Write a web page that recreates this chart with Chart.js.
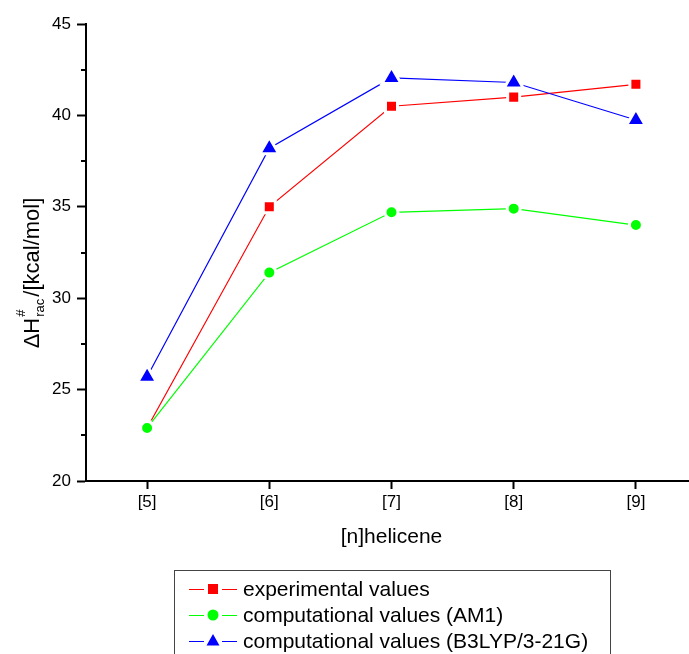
<!DOCTYPE html>
<html lang="en">
<head>
    <meta charset="UTF-8">
    <title>Helicene racemization barriers</title>
    <script src="https://cdn.jsdelivr.net/npm/chart.js"></script>
    <style>
        html, body { margin: 0; padding: 0; background: #fff; overflow: hidden; }
        #chart { display: block; }
    </style>
</head>
<body>
    <canvas id="chart" width="711" height="654"></canvas>

    <script>
        // data
        const categories = ['[5]', '[6]', '[7]', '[8]', '[9]'];
        const experimental = [22.9, 35.0, 40.5, 41.0, 41.7];
        const am1 = [22.9, 31.4, 34.7, 34.9, 34.0];
        const b3lyp = [25.7, 38.2, 42.05, 41.8, 39.75];
        const seriesNames = ['experimental values', 'computational values (AM1)', 'computational values (B3LYP/3-21G)'];
        const yMin = 20, yMax = 45, yStep = 5;

        const FONT = "'Liberation Sans', Arial, sans-serif";

        // axis titles (with sub/superscript), minor ticks, legend box
        const extras = {
            id: 'extras',
            afterDraw(chart) {
                const ctx = chart.ctx;
                const area = chart.chartArea;
                const y = chart.scales.y;

                // minor y ticks
                ctx.save();
                ctx.strokeStyle = '#000';
                ctx.lineWidth = 2;
                for (let v = yMin + yStep / 2; v < yMax; v += yStep) {
                    const py = Math.round(y.getPixelForValue(v));
                    ctx.beginPath();
                    ctx.moveTo(area.left - 5, py);
                    ctx.lineTo(area.left, py);
                    ctx.stroke();
                }
                ctx.restore();

                // x title
                ctx.save();
                ctx.fillStyle = '#000';
                ctx.font = '21px ' + FONT;
                ctx.textAlign = 'center';
                ctx.textBaseline = 'middle';
                ctx.fillText('[n]helicene', (area.left + area.right) / 2, 537);
                ctx.restore();

                // y title: ΔH#rac/[kcal/mol]
                ctx.save();
                ctx.fillStyle = '#000';
                ctx.translate(39, 273);
                ctx.rotate(-Math.PI / 2);
                ctx.textBaseline = 'alphabetic';
                ctx.textAlign = 'left';
                const big = '22px ' + FONT, small = '13px ' + FONT;
                ctx.font = big;
                const w1 = ctx.measureText('\u0394H').width;
                const w3 = ctx.measureText('/[kcal/mol]').width;
                ctx.font = small;
                const w2 = Math.max(ctx.measureText('#').width, ctx.measureText('rac').width) + 3;
                let x0 = -(w1 + w2 + w3) / 2;
                ctx.font = big;
                ctx.fillText('\u0394H', x0, 0);
                ctx.font = small;
                ctx.fillText('#', x0 + w1 + 1, -14);
                ctx.fillText('rac', x0 + w1 + 1, 5);
                ctx.font = big;
                ctx.fillText('/[kcal/mol]', x0 + w1 + w2, 0);
                ctx.restore();

                // legend box
                ctx.save();
                ctx.strokeStyle = '#444';
                ctx.lineWidth = 1;
                ctx.strokeRect(174.5, 570.5, 436, 120);
                chart.data.datasets.forEach((ds, i) => {
                    const ly = 589 + i * 26;
                    ctx.strokeStyle = ds.borderColor;
                    ctx.lineWidth = 1;
                    ctx.beginPath();
                    ctx.moveTo(189, ly + 0.5);
                    ctx.lineTo(204, ly + 0.5);
                    ctx.moveTo(222, ly + 0.5);
                    ctx.lineTo(237, ly + 0.5);
                    ctx.stroke();
                    ctx.fillStyle = ds.backgroundColor;
                    ctx.beginPath();
                    if (ds.pointStyle === 'rect') {
                        ctx.rect(213 - 5, ly - 5, 10, 10);
                    } else if (ds.pointStyle === 'circle') {
                        ctx.arc(213, ly, 5.5, 0, Math.PI * 2);
                    } else {
                        ctx.moveTo(213, ly - 7);
                        ctx.lineTo(219.5, ly + 4.5);
                        ctx.lineTo(206.5, ly + 4.5);
                        ctx.closePath();
                    }
                    ctx.fill();
                    ctx.fillStyle = '#000';
                    ctx.font = '21px ' + FONT;
                    ctx.textAlign = 'left';
                    ctx.textBaseline = 'middle';
                    ctx.fillText(ds.label, 243, ly + 1);
                });
                ctx.restore();
            }
        };

        const ctx = document.getElementById('chart').getContext('2d');
        new Chart(ctx, {
            type: 'line',
            data: {
                labels: categories,
                datasets: [{
                    label: seriesNames[0],
                    data: experimental,
                    borderColor: '#ff0000',
                    backgroundColor: '#ff0000',
                    pointStyle: 'rect',
                    pointRadius: 8.5,
                    pointBorderColor: '#ffffff',
                    pointBorderWidth: 3,
                    borderWidth: 1.2,
                    order: 2
                }, {
                    label: seriesNames[1],
                    data: am1,
                    borderColor: '#00ff00',
                    backgroundColor: '#00ff00',
                    pointStyle: 'circle',
                    pointRadius: 6.5,
                    pointBorderColor: '#ffffff',
                    pointBorderWidth: 3,
                    borderWidth: 1.2,
                    order: 0
                }, {
                    label: seriesNames[2],
                    data: b3lyp,
                    borderColor: '#0000ff',
                    backgroundColor: '#0000ff',
                    pointStyle: 'triangle',
                    pointRadius: 11,
                    pointBorderColor: '#ffffff',
                    pointBorderWidth: 3,
                    borderWidth: 1.2,
                    order: 1
                }]
            },
            options: {
                responsive: false,
                animation: false,
                layout: { padding: { left: 0, top: 24, right: 2.5, bottom: 0 } },
                plugins: {
                    legend: { display: false },
                    tooltip: { enabled: false }
                },
                scales: {
                    x: {
                        type: 'category',
                        offset: true,
                        grid: {
                            drawOnChartArea: false,
                            drawTicks: true,
                            tickLength: 8,
                            tickWidth: 2,
                            tickColor: '#000',
                            offset: false
                        },
                        border: { display: true, color: '#000', width: 2 },
                        ticks: {
                            color: '#000',
                            font: { family: FONT, size: 17 },
                            padding: 3,
                            maxRotation: 0
                        },
                        afterFit(scale) { scale.height = 173; }
                    },
                    y: {
                        min: yMin,
                        max: yMax,
                        grid: {
                            drawOnChartArea: false,
                            drawTicks: true,
                            tickLength: 9,
                            tickWidth: 2,
                            tickColor: '#000'
                        },
                        border: { display: true, color: '#000', width: 2 },
                        ticks: {
                            stepSize: yStep,
                            color: '#000',
                            font: { family: FONT, size: 17 },
                            padding: 6
                        },
                        afterFit(scale) { scale.width = 86; }
                    }
                }
            },
            plugins: [extras]
        });
    </script>
</body>
</html>
